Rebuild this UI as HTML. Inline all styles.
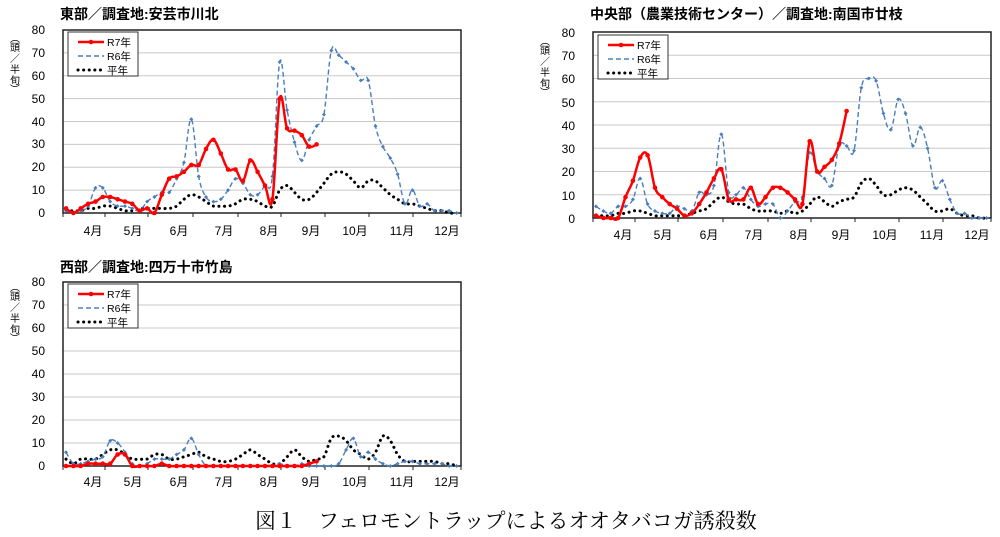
<!DOCTYPE html>
<html><head><meta charset="utf-8">
<style>
html,body{margin:0;padding:0;background:#fff;width:1000px;height:537px;overflow:hidden}
svg{display:block}
text{font-family:"Liberation Sans","Noto Sans CJK JP",sans-serif;fill:#000}
.t{font-weight:bold;font-size:14px}
.yl{font-size:12px;text-anchor:end}
.ml{font-size:12px;text-anchor:middle}
.lg{font-size:10.5px}
.cap{font-family:"Liberation Serif","Noto Serif CJK SC",serif;font-size:21px}
.ax{font-size:10px;text-anchor:middle}
</style></head><body>
<svg id="s" width="1000" height="537" viewBox="0 0 1000 537" xmlns="http://www.w3.org/2000/svg">
<g id="g1"></g><g id="g2"></g><g id="g3"></g>
<!-- chart 1 text -->
<text class="t" x="60" y="19">東部／調査地:安芸市川北</text>
<text class="yl" x="45" y="34">80</text><text class="yl" x="45" y="57">70</text><text class="yl" x="45" y="80">60</text><text class="yl" x="45" y="103">50</text><text class="yl" x="45" y="126">40</text><text class="yl" x="45" y="148">30</text><text class="yl" x="45" y="171">20</text><text class="yl" x="45" y="194">10</text><text class="yl" x="45" y="217">0</text>
<text class="ax" x="15" y="42">︵</text><text class="ax" x="15" y="51">頭</text><text class="ax" x="15" y="62">／</text><text class="ax" x="15" y="73">半</text><text class="ax" x="15" y="84">旬</text><text class="ax" x="15" y="93">︶</text>
<text class="ml" x="93" y="235">4月</text><text class="ml" x="133" y="235">5月</text><text class="ml" x="179" y="235">6月</text><text class="ml" x="224" y="235">7月</text><text class="ml" x="269" y="235">8月</text><text class="ml" x="311" y="235">9月</text><text class="ml" x="355" y="235">10月</text><text class="ml" x="402" y="235">11月</text><text class="ml" x="447" y="235">12月</text>
<text class="lg" x="107" y="46">R7年</text><text class="lg" x="107" y="60">R6年</text><text class="lg" x="107" y="74">平年</text>
<!-- chart 2 text -->
<text class="t" x="590" y="19">中央部（農業技術センター）／調査地:南国市廿枝</text>
<text class="yl" x="575" y="37">80</text><text class="yl" x="575" y="60">70</text><text class="yl" x="575" y="83">60</text><text class="yl" x="575" y="107">50</text><text class="yl" x="575" y="130">40</text><text class="yl" x="575" y="153">30</text><text class="yl" x="575" y="176">20</text><text class="yl" x="575" y="200">10</text><text class="yl" x="575" y="223">0</text>
<text class="ax" x="545" y="45">︵</text><text class="ax" x="545" y="54">頭</text><text class="ax" x="545" y="65">／</text><text class="ax" x="545" y="76">半</text><text class="ax" x="545" y="87">旬</text><text class="ax" x="545" y="96">︶</text>
<text class="ml" x="623" y="239">4月</text><text class="ml" x="663" y="239">5月</text><text class="ml" x="709" y="239">6月</text><text class="ml" x="754" y="239">7月</text><text class="ml" x="799" y="239">8月</text><text class="ml" x="841" y="239">9月</text><text class="ml" x="885" y="239">10月</text><text class="ml" x="932" y="239">11月</text><text class="ml" x="977" y="239">12月</text>
<text class="lg" x="637" y="49">R7年</text><text class="lg" x="637" y="63">R6年</text><text class="lg" x="637" y="77">平年</text>
<!-- chart 3 text -->
<text class="t" x="60" y="272">西部／調査地:四万十市竹島</text>
<text class="yl" x="45" y="286">80</text><text class="yl" x="45" y="309">70</text><text class="yl" x="45" y="332">60</text><text class="yl" x="45" y="355">50</text><text class="yl" x="45" y="378">40</text><text class="yl" x="45" y="401">30</text><text class="yl" x="45" y="424">20</text><text class="yl" x="45" y="447">10</text><text class="yl" x="45" y="470">0</text>
<text class="ax" x="15" y="291">︵</text><text class="ax" x="15" y="300">頭</text><text class="ax" x="15" y="311">／</text><text class="ax" x="15" y="322">半</text><text class="ax" x="15" y="333">旬</text><text class="ax" x="15" y="342">︶</text>
<text class="ml" x="93" y="486">4月</text><text class="ml" x="133" y="486">5月</text><text class="ml" x="179" y="486">6月</text><text class="ml" x="224" y="486">7月</text><text class="ml" x="269" y="486">8月</text><text class="ml" x="311" y="486">9月</text><text class="ml" x="355" y="486">10月</text><text class="ml" x="402" y="486">11月</text><text class="ml" x="447" y="486">12月</text>
<text class="lg" x="107" y="298">R7年</text><text class="lg" x="107" y="312">R6年</text><text class="lg" x="107" y="326">平年</text>
<text class="cap" x="255" y="528">図１　フェロモントラップによるオオタバコガ誘殺数</text>
</svg>
<script>
const NS="http://www.w3.org/2000/svg";
function el(p,n,a){const e=document.createElementNS(NS,n);for(const k in a)e.setAttribute(k,a[k]);p.appendChild(e);return e;}
function spline(pts){let d="M"+pts[0][0]+","+pts[0][1];for(let i=0;i<pts.length-1;i++){const p0=pts[i-1]||pts[i],p1=pts[i],p2=pts[i+1],p3=pts[i+2]||p2;const t=0.18;const c1=[p1[0]+(p2[0]-p0[0])*t,p1[1]+(p2[1]-p0[1])*t],c2=[p2[0]-(p3[0]-p1[0])*t,p2[1]-(p3[1]-p1[1])*t];d+=`C${c1[0].toFixed(1)},${c1[1].toFixed(1)} ${c2[0].toFixed(1)},${c2[1].toFixed(1)} ${p2[0]},${p2[1].toFixed(1)}`;}return d;}
function chart(g,ox,top,bot,r7,r6,av,lx,ly){
 const L=ox+63,R=ox+461,sc=(bot-top)/80;
 for(let v=10;v<=80;v+=10){const y=bot-v*sc;el(g,"line",{x1:L,x2:R,y1:y,y2:y,stroke:"#c8c8c8","stroke-width":1});}
 el(g,"rect",{x:L,y:top,width:R-L,height:bot-top,fill:"none",stroke:"#222","stroke-width":1.5});
 const ticks=[0,42,85,130,175,218,262,306,350,398];
 for(const t of ticks)el(g,"line",{x1:L+t,x2:L+t,y1:bot,y2:bot+4,stroke:"#222"});
 const X=i=>ox+66+i*7.37,Y=v=>bot-v*sc;
 const pa=a=>a.map((v,i)=>[+X(i).toFixed(1),Y(v)]);
 el(g,"path",{d:spline(pa(av)),fill:"none",stroke:"#000","stroke-width":3,"stroke-dasharray":"0.1 5.5","stroke-linecap":"round"});
 const p6=pa(r6);el(g,"path",{d:spline(p6),fill:"none",stroke:"#4a7ebb","stroke-width":1.4,"stroke-dasharray":"5 3"});
 for(const p of p6)el(g,"path",{d:`M${p[0]-2},${p[1]}L${p[0]},${p[1]-2}L${p[0]+2},${p[1]}L${p[0]},${p[1]+2}Z`,fill:"#4a7ebb"});
 const p7=pa(r7);el(g,"path",{d:spline(p7),fill:"none",stroke:"#f00","stroke-width":2.5});
 for(const p of p7)el(g,"circle",{cx:p[0],cy:p[1],r:2.3,fill:"#f00"});
 el(g,"rect",{x:lx,y:ly,width:70,height:44,fill:"#fff",stroke:"#333","stroke-width":1});
 el(g,"line",{x1:lx+10,x2:lx+36,y1:ly+10,y2:ly+10,stroke:"#f00","stroke-width":2.5});el(g,"circle",{cx:lx+23,cy:ly+10,r:2.3,fill:"#f00"});
 el(g,"line",{x1:lx+10,x2:lx+36,y1:ly+24,y2:ly+24,stroke:"#4a7ebb","stroke-width":1.4,"stroke-dasharray":"5 3"});
 el(g,"line",{x1:lx+10,x2:lx+36,y1:ly+38,y2:ly+38,stroke:"#000","stroke-width":3,"stroke-dasharray":"0.1 5.5","stroke-linecap":"round"});
}
chart(document.getElementById("g1"),0,30,213,
[2,0,2,4,5,7,7,6,5,4,1,2,0,8,15,16,18,21,21,28,32,26,19,19,14,23,18,12,6,50,37,36,34,29,30],
[1,0,1,3,11,11,5,3,3,2,1,5,7,9,9,15,22,41,16,7,5,6,10,15,13,8,8,12,16,66,45,31,23,32,38,43,71,69,66,63,58,58,38,29,24,17,4,10,3,4,1,1,1,0],
[1,1,1,2,2,3,3,2,1,1,2,2,2,2,2,3,6,8,7,5,3,3,3,4,6,6,5,3,3,10,12,9,6,6,9,13,17,18,17,14,11,14,14,11,8,6,4,4,3,2,1,1,0,0],68,32);
chart(document.getElementById("g2"),530,32,218,
[1,0,0,0,9,16,26,27,13,9,6,4,1,2,6,11,17,21,8,8,8,13,6,9,13,13,11,8,6,33,20,22,25,32,46],
[5,3,2,5,5,8,17,6,3,2,2,5,4,3,11,10,14,36,11,10,13,8,5,6,6,0,3,7,9,28,20,17,14,31,31,29,56,60,59,45,38,51,45,31,39,30,13,16,8,2,2,0,0,0],
[1,1,1,2,2,3,3,2,1,1,1,1,1,2,3,4,7,9,7,6,6,4,3,3,3,2,3,2,3,6,9,7,5,7,8,9,15,17,14,10,10,12,13,12,9,6,3,3,4,2,1,1,0,0],598,35);
chart(document.getElementById("g3"),0,282,466,
[0,0,0,1,1,1,1,5,5,0,0,0,0,1,0,0,0,0,0,0,0,0,0,0,0,0,0,0,0,0,0,0,0,1,2],
[6,1,1,2,3,4,11,10,6,1,0,1,3,3,3,5,7,12,5,0,0,0,0,0,0,0,0,0,0,1,0,0,1,0,0,0,0,1,7,12,4,6,3,1,0,1,2,2,1,1,1,1,0,0],
[3,1,3,3,3,5,7,7,5,3,3,3,5,5,3,3,4,5,6,4,3,2,2,3,5,7,5,3,1,1,4,7,4,2,3,4,12,13,11,7,5,3,6,13,11,5,2,2,2,2,2,1,1,0],68,284);
</script>
</body></html>
